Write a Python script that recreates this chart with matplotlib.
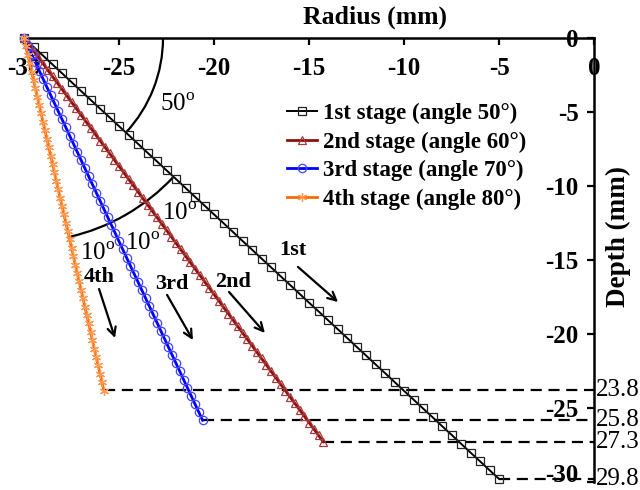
import matplotlib
matplotlib.use("Agg")
import matplotlib.pyplot as plt
import numpy as np
from matplotlib.patches import Arc
from matplotlib.transforms import ScaledTranslation, blended_transform_factory

plt.rcParams['font.family'] = ['Liberation Serif', 'DejaVu Serif']
plt.rcParams['mathtext.fontset'] = 'custom'
plt.rcParams['mathtext.rm'] = 'Liberation Serif'

# ---------------- data ----------------
stage_labels = ["1st stage (angle 50\u00b0)", "2nd stage (angle 60\u00b0)",
                "3rd stage (angle 70\u00b0)", "4th stage (angle 80\u00b0)"]

r1 = [-30.0, -29.5, -29.0, -28.5, -28.0, -27.5, -27.0, -26.5, -26.0, -25.5,
      -25.0, -24.5, -24.0, -23.5, -23.0, -22.5, -22.0, -21.5, -21.0, -20.5,
      -20.0, -19.5, -19.0, -18.5, -18.0, -17.5, -17.0, -16.5, -16.0, -15.5,
      -15.0, -14.5, -14.0, -13.5, -13.0, -12.5, -12.0, -11.5, -11.0, -10.5,
      -10.0, -9.5, -9.0, -8.5, -8.0, -7.5, -7.0, -6.5, -6.0, -5.5, -5.0]
d1 = [0.0, -0.60, -1.19, -1.79, -2.38, -2.98, -3.58, -4.17, -4.77, -5.36,
      -5.96, -6.55, -7.15, -7.75, -8.34, -8.94, -9.53, -10.13, -10.73, -11.32,
      -11.92, -12.51, -13.11, -13.71, -14.30, -14.90, -15.49, -16.09, -16.68, -17.28,
      -17.88, -18.47, -19.07, -19.66, -20.26, -20.86, -21.45, -22.05, -22.64, -23.24,
      -23.84, -24.43, -25.03, -25.62, -26.22, -26.81, -27.41, -28.01, -28.60, -29.20, -29.79]

r2 = [-30.00, -29.75, -29.50, -29.25, -29.00, -28.75, -28.50, -28.25, -28.00, -27.75,
      -27.50, -27.25, -27.00, -26.75, -26.50, -26.25, -26.00, -25.75, -25.50, -25.25,
      -25.00, -24.75, -24.50, -24.25, -24.00, -23.75, -23.50, -23.25, -23.00, -22.75,
      -22.50, -22.25, -22.00, -21.75, -21.50, -21.25, -21.00, -20.75, -20.50, -20.25,
      -20.00, -19.75, -19.50, -19.25, -19.00, -18.75, -18.50, -18.25, -18.00, -17.75,
      -17.50, -17.25, -17.00, -16.75, -16.50, -16.25, -16.00, -15.75, -15.50, -15.25,
      -15.00, -14.75, -14.50, -14.25]
d2 = [0.0, -0.43, -0.87, -1.30, -1.73, -2.17, -2.60, -3.03, -3.46, -3.90,
      -4.33, -4.76, -5.20, -5.63, -6.06, -6.50, -6.93, -7.36, -7.79, -8.23,
      -8.66, -9.09, -9.53, -9.96, -10.39, -10.83, -11.26, -11.69, -12.12, -12.56,
      -12.99, -13.42, -13.86, -14.29, -14.72, -15.16, -15.59, -16.02, -16.45, -16.89,
      -17.32, -17.75, -18.19, -18.62, -19.05, -19.49, -19.92, -20.35, -20.78, -21.22,
      -21.65, -22.08, -22.52, -22.95, -23.38, -23.82, -24.25, -24.68, -25.11, -25.55,
      -25.98, -26.41, -26.85, -27.28]

r3 = [-30.0, -29.8, -29.6, -29.4, -29.2, -29.0, -28.8, -28.6, -28.4, -28.2,
      -28.0, -27.8, -27.6, -27.4, -27.2, -27.0, -26.8, -26.6, -26.4, -26.2,
      -26.0, -25.8, -25.6, -25.4, -25.2, -25.0, -24.8, -24.6, -24.4, -24.2,
      -24.0, -23.8, -23.6, -23.4, -23.2, -23.0, -22.8, -22.6, -22.4, -22.2,
      -22.0, -21.8, -21.6, -21.4, -21.2, -21.0, -20.8, -20.6]
d3 = [0.0, -0.55, -1.10, -1.65, -2.20, -2.75, -3.30, -3.85, -4.40, -4.95,
      -5.49, -6.04, -6.59, -7.14, -7.69, -8.24, -8.79, -9.34, -9.89, -10.44,
      -10.99, -11.54, -12.09, -12.64, -13.19, -13.74, -14.29, -14.84, -15.39, -15.94,
      -16.48, -17.03, -17.58, -18.13, -18.68, -19.23, -19.78, -20.33, -20.88, -21.43,
      -21.98, -22.53, -23.08, -23.63, -24.18, -24.73, -25.28, -25.83]

r4 = [-30.0, -29.9, -29.8, -29.7, -29.6, -29.5, -29.4, -29.3, -29.2, -29.1,
      -29.0, -28.9, -28.8, -28.7, -28.6, -28.5, -28.4, -28.3, -28.2, -28.1,
      -28.0, -27.9, -27.8, -27.7, -27.6, -27.5, -27.4, -27.3, -27.2, -27.1,
      -27.0, -26.9, -26.8, -26.7, -26.6, -26.5, -26.4, -26.3, -26.2, -26.1,
      -26.0, -25.9, -25.8]
d4 = [0.0, -0.57, -1.13, -1.70, -2.27, -2.84, -3.40, -3.97, -4.54, -5.10,
      -5.67, -6.24, -6.81, -7.37, -7.94, -8.51, -9.07, -9.64, -10.21, -10.78,
      -11.34, -11.91, -12.48, -13.04, -13.61, -14.18, -14.75, -15.31, -15.88, -16.45,
      -17.01, -17.58, -18.15, -18.72, -19.28, -19.85, -20.42, -20.98, -21.55, -22.12,
      -22.69, -23.25, -23.82]

final_depths = [29.8, 27.3, 25.8, 23.8]
final_labels = ["29.8", "27.3", "25.8", "23.8"]

x_ticks = [-30, -25, -20, -15, -10, -5, 0]
y_ticks = [0, -5, -10, -15, -20, -25, -30]
x_ticklabels = ["-30", "-25", "-20", "-15", "-10", "-5", "0"]
y_ticklabels = ["0", "-5", "-10", "-15", "-20", "-25", "-30"]

# ---------------- figure ----------------
fig = plt.figure(figsize=(6.4, 4.9), dpi=100)
ax = fig.add_axes([24/640, 8/490, 570/640, 444/490])
ax.set_xlim(-30, 0)
ax.set_ylim(-30, 0)

series = [
    (r1, d1, dict(color='black', lw=1.4, marker='s', ms=6, mfc='none', mec='#222222', mew=0.9)),
    (r2, d2, dict(color='#8B1010', lw=2.0, marker='^', ms=6, mfc='none', mec='#A83A3A', mew=0.9)),
    (r3, d3, dict(color='#0000FF', lw=2.0, marker='o', ms=6, mfc='none', mec='#4444FF', mew=0.9)),
    (r4, d4, dict(color='#FF6A00', lw=2.0, marker=(6, 2, 0), ms=6.5, mfc='none', mec='#FF9A55', mew=0.9)),
]
for (xs, ys, st), lab in zip(series, stage_labels):
    ax.plot(xs, ys, label=lab, clip_on=False, zorder=3, **st)

# dashed lines at final depths
ends = [r1[-1], r2[-1], r3[-1], r4[-1]]
for xe, dep in zip(ends, final_depths):
    ax.plot([xe, 0], [-dep, -dep], color='black', lw=1.6, ls=(0, (5, 3)),
            clip_on=False, zorder=2)

trans_r = blended_transform_factory(ax.transAxes, ax.transData)
for dep, lab in zip(final_depths, final_labels):
    ax.text(1.004, -dep, lab, transform=trans_r, ha='left', va='center',
            fontsize=18)

# spines
ax.spines['left'].set_visible(False)
ax.spines['bottom'].set_visible(False)
ax.spines['top'].set_linewidth(1.8)
ax.spines['right'].set_linewidth(1.8)

ax.xaxis.tick_top()
ax.yaxis.tick_right()
ax.set_xticks(x_ticks)
ax.set_xticklabels(x_ticklabels)
ax.set_yticks(y_ticks)
ax.set_yticklabels(y_ticklabels)
ax.tick_params(axis='x', direction='in', length=5, width=1.6, pad=-14,
               labelsize=18, top=True, bottom=False, labeltop=True, labelbottom=False)
ax.tick_params(axis='y', direction='in', length=5, width=1.6, pad=-11,
               labelsize=18, right=True, left=False, labelright=True, labelleft=False)
for t in ax.xaxis.get_major_ticks():
    t.label2.set_verticalalignment('top')
    t.label2.set_fontweight('bold')
for t, lab in zip(ax.yaxis.get_major_ticks(), y_ticklabels):
    t.label2.set_horizontalalignment('right')
    t.label2.set_fontweight('bold')
    if lab == "-30":
        t.label2.set_verticalalignment('baseline')

ax.text(0.616, 1.047, "Radius (mm)", transform=ax.transAxes, ha='center',
        va='center', fontsize=18.5, fontweight='bold')
ax.text(1.042, 0.553, "Depth (mm)", transform=ax.transAxes, ha='center',
        va='center', fontsize=19.5, fontweight='bold', rotation=90)

# legend
ax.legend(loc='upper left', bbox_to_anchor=(0.462, 0.853), frameon=False,
          prop=dict(size=16.5, weight='bold'), handlelength=1.3,
          handletextpad=0.25, labelspacing=0.32, borderpad=0,
          borderaxespad=0, markerscale=1.0)

# angle arcs
origin = (r1[0], d1[0])
disp0 = ax.transData.transform(origin)
angs = []
for xs, ys in [(r1, d1), (r4, d4)]:
    p = ax.transData.transform((xs[-1], ys[-1]))
    angs.append(np.degrees(np.arctan2(p[1] - disp0[1], p[0] - disp0[0])))
arc_tr = fig.dpi_scale_trans + ScaledTranslation(origin[0], origin[1], ax.transData)
ax.add_patch(Arc((0, 0), 2 * 1.39, 2 * 1.39, theta1=angs[0], theta2=0,
                 transform=arc_tr, color='black', lw=1.6, clip_on=False))
ax.add_patch(Arc((0, 0), 2 * 2.04, 2 * 2.04, theta1=angs[1], theta2=angs[0],
                 transform=arc_tr, color='black', lw=1.6, clip_on=False))

deg_txt = [("50$^{\\mathrm{o}}$", -21.9, -4.5),
           ("10$^{\\mathrm{o}}$", -21.8, -11.9),
           ("10$^{\\mathrm{o}}$", -23.75, -13.9),
           ("10$^{\\mathrm{o}}$", -26.15, -14.6)]
for s, x, y in deg_txt:
    ax.text(x, y, s, ha='center', va='center', fontsize=18)

# stage arrows
arrow_txt = [("1st", -15.84, -14.32, (-15.58, -15.47), (-13.47, -17.84)),
             ("2nd", -19.0, -16.49, (-19.21, -17.16), (-17.32, -19.93)),
             ("3rd", -22.21, -16.62, (-22.47, -17.36), (-21.11, -20.41)),
             ("4th", -26.05, -16.15, (-26.05, -16.96), (-25.21, -20.27))]
for s, x, y, p0, p1 in arrow_txt:
    ax.text(x, y, s, ha='center', va='center', fontsize=16, fontweight='bold')
    ax.annotate("", xy=p1, xytext=p0,
                arrowprops=dict(arrowstyle='->,head_length=0.6,head_width=0.3',
                                color='black', lw=1.6, shrinkA=0, shrinkB=0))

fig.savefig("out.png", dpi=100)
